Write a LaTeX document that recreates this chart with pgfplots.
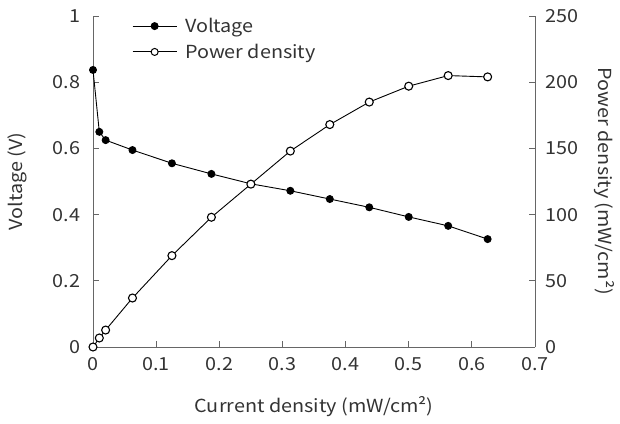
\documentclass[border=0pt]{standalone}
\usepackage{fontspec}
\setmainfont{Noto Sans CJK JP}[FakeStretch=1.1]
\usepackage{pgfplots}
\pgfplotsset{compat=1.18}
\definecolor{txt}{HTML}{333333}
\definecolor{axl}{HTML}{666666}

\begin{document}
\begin{tikzpicture}[x=1pt,y=1pt]
\useasboundingbox (0,0) rectangle (620,423);
\pgfplotsset{
  every axis/.append style={
    scale only axis, width=442pt, height=331pt,
    at={(93pt,76pt)}, anchor=south west,
    xmin=0, xmax=0.7, tick align=inside,
    major tick length=6pt,
    axis line style={axl, line width=0.9pt},
    every tick/.style={axl, line width=0.9pt},
    tick label style={font=\fontsize{18}{20}\selectfont, text=txt},
    label style={font=\fontsize{18}{20}\selectfont, text=txt},
    /pgf/number format/assume math mode=true,
  },
}
\begin{axis}[
  axis y line*=left, axis x line*=bottom,
  ymin=0, ymax=1,
  ytick={0,0.2,0.4,0.6,0.8,1},
  xtick={0,0.1,...,0.7},
  yticklabel style={xshift=-9pt},
  xticklabel style={yshift=-7pt},
  xlabel={Current density (mW/cm²)},
  ylabel={Voltage (V)},
  ylabel style={at={(axis description cs:-0.17,0.5)}, anchor=center},
  xlabel style={at={(axis description cs:0.5,-0.18)}, anchor=center},
  legend style={draw=none, fill=none, at={(36pt,333pt)}, anchor=north west,
    font=\fontsize{18}{20}\selectfont, text=txt, row sep=6pt},
  legend cell align=left,
  legend image code/.code={%
    \draw[mark repeat=2, mark phase=2] plot coordinates {(0pt,0pt) (22pt,0pt) (44pt,0pt)};
    \path (50pt,0pt);},
]
\addplot[black, line width=0.9pt, mark=*, mark size=3.5pt] coordinates {
  (0,0.837) (0.01,0.65) (0.02,0.625) (0.0625,0.595) (0.125,0.555)
  (0.1875,0.523) (0.25,0.493) (0.3125,0.472) (0.375,0.447)
  (0.4375,0.422) (0.5,0.393) (0.5625,0.366) (0.625,0.326)
};
\addlegendentry{Voltage}
\addlegendimage{black, line width=0.9pt, mark=*, mark size=3.5pt,
  mark options={fill=white, line width=1pt}}
\addlegendentry{Power density}
\end{axis}
\begin{axis}[
  axis y line*=right, axis x line=none,
  ymin=0, ymax=250,
  ytick={0,50,...,250},
  yticklabel style={xshift=7pt},
  ylabel={Power density (mW/cm²)},
  ylabel style={at={(axis description cs:1.158,0.5)}, anchor=center, rotate=180},
]
\addplot[black, line width=0.9pt, mark=*, mark size=4pt,
  mark options={fill=white, line width=1.1pt}] coordinates {
  (0,0) (0.01,6.8) (0.02,12.8) (0.0625,37) (0.125,69)
  (0.1875,98) (0.25,123) (0.3125,148) (0.375,168)
  (0.4375,185) (0.5,197) (0.5625,205) (0.625,204)
};
\end{axis}
\end{tikzpicture}
\end{document}
